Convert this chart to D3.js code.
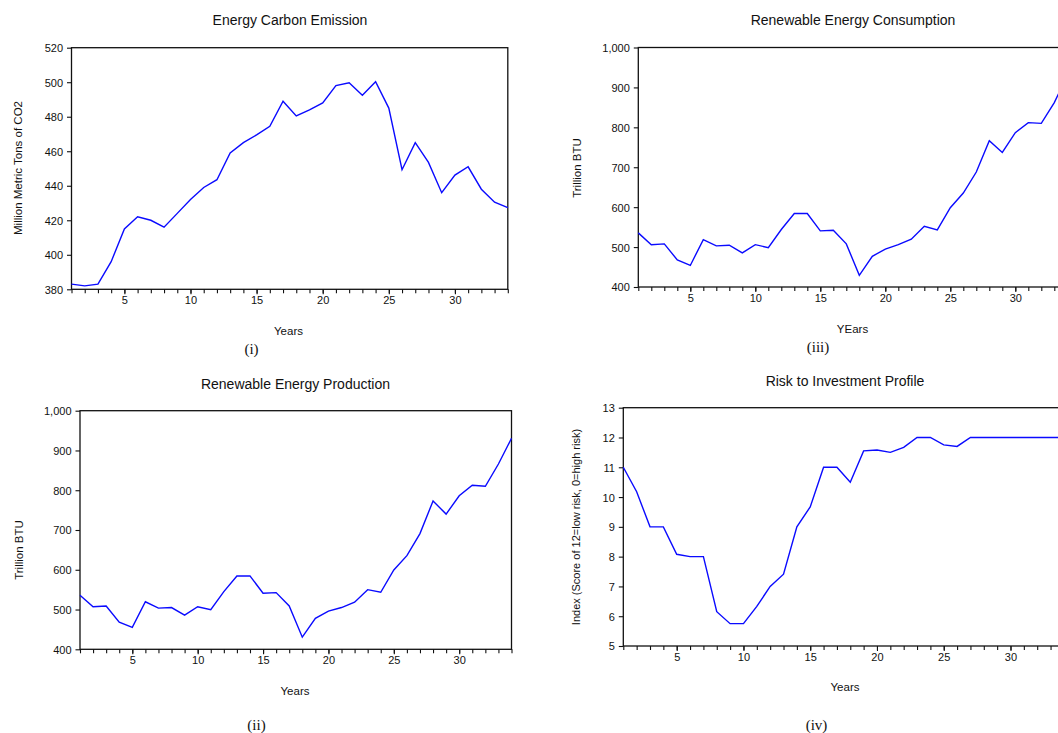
<!DOCTYPE html>
<html>
<head>
<meta charset="utf-8">
<script src="https://cdn.jsdelivr.net/npm/d3@7"></script>
<style>
  html, body { margin: 0; padding: 0; background: #fff; overflow: hidden; }
  svg { display: block; }
  text { font-family: "Liberation Sans", Arial, sans-serif; fill: #111; }
  .cap { font-family: "Liberation Serif", "Times New Roman", serif; }
</style>
</head>
<body>
<svg id="chart" width="1058" height="733"></svg>
<script>
// ---------- data ----------
const years = [1,2,3,4,5,6,7,8,9,10,11,12,13,14,15,16,17,18,19,20,21,22,23,24,25,26,27,28,29,30,31,32,33,34];

const carbonEmission = [383,382,383,396,415,422,420,416,424,432,439,443.5,459,465,469.5,474.5,489,480.5,484,488,498,499.7,492.5,500.3,485,449.3,465,453.5,436,446.2,451,438,430.5,427.3];

const renewableProduction = [536,507,509,468,455,519.5,503.5,505,486,507,499.5,545,584.5,584.5,541,542.5,509,430.5,478,496,505,518.5,550,543.5,599.5,635.5,691,773,740,786,812.5,810,866,930.5];

const renewableConsumption = [535.6,506,508,467.8,454,518.8,503,504.6,485.4,506,498.7,544,584,584,540.6,542,508,429.3,477,495,506,519.7,552,543,598.7,635.5,688,766.5,737.2,786.6,811.7,810,862,930];

const riskInvestment = [11,10.18,9,9,8.08,8,8,6.15,5.75,5.75,6.33,7,7.41,9,9.67,11,11,10.5,11.55,11.58,11.5,11.67,12,12,11.75,11.7,12,12,12,12,12,12,12,12];

const xTickLabels = [5,10,15,20,25,30];
const yTicksCarbon = [380,400,420,440,460,480,500,520];
const yTicksBTU = [400,500,600,700,800,900,1000];
const yTicksRisk = [5,6,7,8,9,10,11,12,13];

const titles = ["Energy Carbon Emission","Renewable Energy Production","Renewable Energy Consumption","Risk to Investment Profile"];
const xTitles = ["Years","Years","YEars","Years"];
const yTitles = ["Million Metric Tons of CO2","Trillion BTU","Trillion BTU","Index (Score of 12=low risk, 0=high risk)"];
const captions = ["(i)","(ii)","(iii)","(iv)"];

// ---------- layout ----------
const panels = [
  { values: carbonEmission, yTicks: yTicksCarbon, yDom: [380,520],
    left: 71.5, right: 507.8, top: 47.7, bottom: 289.3,
    titleX: 290, titleY: 25, xtX: 288.5, xtY: 335, ytX: 18, ytY: 168, capX: 251.5, capY: 354 },
  { values: renewableProduction, yTicks: yTicksBTU, yDom: [400,1000],
    left: 80, right: 511.5, top: 410.7, bottom: 649.3,
    titleX: 295.5, titleY: 388.5, xtX: 295, xtY: 694.5, ytX: 18.5, ytY: 550, capX: 256.5, capY: 730 },
  { values: renewableConsumption, yTicks: yTicksBTU, yDom: [400,1000],
    left: 638.3, right: 1067.3, top: 47.5, bottom: 287,
    titleX: 853, titleY: 25, xtX: 852.5, xtY: 333, ytX: 577, ytY: 168, capX: 818, capY: 352 },
  { values: riskInvestment, yTicks: yTicksRisk, yDom: [5,13],
    left: 623.3, right: 1063.9, top: 407.7, bottom: 646,
    titleX: 845, titleY: 386, xtX: 845, xtY: 691, ytX: 576, ytY: 527, capX: 816.5, capY: 730 }
];

const svg = d3.select("#chart");

panels.forEach((p, i) => {
  const x = d3.scaleLinear().domain([years[0], years[years.length-1]]).range([p.left, p.right]);
  const y = d3.scaleLinear().domain(p.yDom).range([p.bottom, p.top]);
  const g = svg.append("g");

  // frame
  g.append("rect")
    .attr("x", p.left).attr("y", p.top)
    .attr("width", p.right - p.left).attr("height", p.bottom - p.top)
    .attr("fill", "none").attr("stroke", "#111").attr("stroke-width", 1.3);

  // y axis
  const yAxis = d3.axisLeft(y).tickValues(p.yTicks).tickSize(4.5).tickPadding(4)
    .tickFormat(d3.format(","));
  const ya = g.append("g").attr("transform", `translate(${p.left},0)`).call(yAxis);
  ya.select(".domain").remove();
  ya.selectAll("line").attr("stroke", "#111").attr("stroke-width", 1.1);
  ya.selectAll("text").attr("font-size", 11).attr("fill", "#222")
    .attr("font-family", '"Liberation Sans", Arial, sans-serif').attr("dy", "0.36em");

  // x axis minor ticks (every year)
  const xMinor = d3.axisBottom(x).tickValues(years).tickSize(4).tickFormat("");
  const xm = g.append("g").attr("transform", `translate(0,${p.bottom})`).call(xMinor);
  xm.select(".domain").remove();
  xm.selectAll("line").attr("stroke", "#111").attr("stroke-width", 1.1);

  // x axis labelled ticks
  const xMajor = d3.axisBottom(x).tickValues(xTickLabels).tickSize(5).tickPadding(2);
  const xa = g.append("g").attr("transform", `translate(0,${p.bottom})`).call(xMajor);
  xa.select(".domain").remove();
  xa.selectAll("line").attr("stroke", "#111").attr("stroke-width", 1.1);
  xa.selectAll("text").attr("font-size", 11).attr("fill", "#222")
    .attr("font-family", '"Liberation Sans", Arial, sans-serif');

  // line
  const line = d3.line().x((d, k) => x(years[k])).y(d => y(d));
  g.append("path").datum(p.values)
    .attr("d", line).attr("fill", "none")
    .attr("stroke", "#0a0aff").attr("stroke-width", 1.4)
    .attr("stroke-linejoin", "miter");

  // texts
  g.append("text").attr("x", p.titleX).attr("y", p.titleY)
    .attr("text-anchor", "middle").attr("font-size", 14).text(titles[i]);
  g.append("text").attr("x", p.xtX).attr("y", p.xtY)
    .attr("text-anchor", "middle").attr("font-size", 11.5).text(xTitles[i]);
  g.append("text")
    .attr("transform", `translate(${p.ytX},${p.ytY}) rotate(-90)`)
    .attr("text-anchor", "middle").attr("dy", "0.35em")
    .attr("font-size", i === 3 ? 11 : 11.5).text(yTitles[i]);
  g.append("text").attr("class", "cap").attr("x", p.capX).attr("y", p.capY)
    .attr("text-anchor", "middle").attr("font-size", 15).attr("fill", "#000").text(captions[i]);
});
</script>
</body>
</html>
